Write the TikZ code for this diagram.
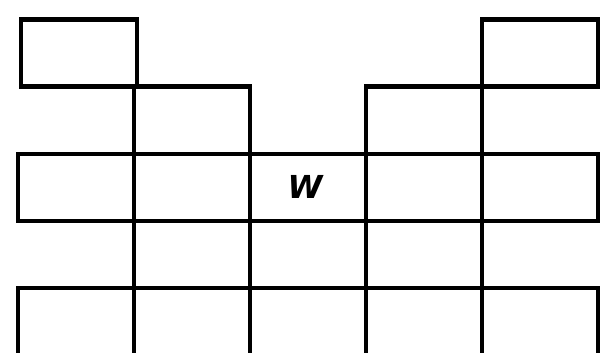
\documentclass[tikz,border=0pt]{standalone}
\usepackage{fontspec}
\newfontfamily\wfont{DejaVu Sans}
\usepackage{tikz}
\usetikzlibrary{positioning}

\begin{document}
\begin{tikzpicture}[
  node distance=0pt,
  cell/.style={draw=black,line width=0.22cm,minimum width=5.8cm,minimum height=3.36cm,inner sep=0pt,outer sep=0pt},
  wall/.style={draw=black,line width=0.22cm},
  letter/.style={font=\fontsize{45}{45}\selectfont\wfont\bfseries\itshape}
]
\clip (0,0) rectangle (30,-17.65);
% middle row
\node[cell] (r2c0) at (3.8,-9.37) {};
\node[cell,right=of r2c0] (r2c1) {};
\node[cell,right=of r2c1,letter] (r2c2) {\hspace*{-0.3cm}W};
\node[cell,right=of r2c2] (r2c3) {};
\node[cell,right=of r2c3] (r2c4) {};
% upper steps
\node[cell,above=of r2c1] (r1c1) {};
\node[cell,above=of r2c3] (r1c3) {};
\node[cell,above=3.36cm of r2c0,xshift=0.15cm] (r0c0) {};
\node[cell,above=3.36cm of r2c4] (r0c4) {};
% bottom row
\node[cell,below=3.36cm of r2c0] (r4c0) {};
\node[cell,right=of r4c0] (r4c1) {};
\node[cell,right=of r4c1] (r4c2) {};
\node[cell,right=of r4c2] (r4c3) {};
\node[cell,right=of r4c3] (r4c4) {};
% open row between
\draw[wall] (r2c1.south west) -- (r4c1.north west);
\draw[wall] (r2c2.south west) -- (r4c2.north west);
\draw[wall] (r2c3.south west) -- (r4c3.north west);
\draw[wall] (r2c4.south west) -- (r4c4.north west);
\end{tikzpicture}
\end{document}
